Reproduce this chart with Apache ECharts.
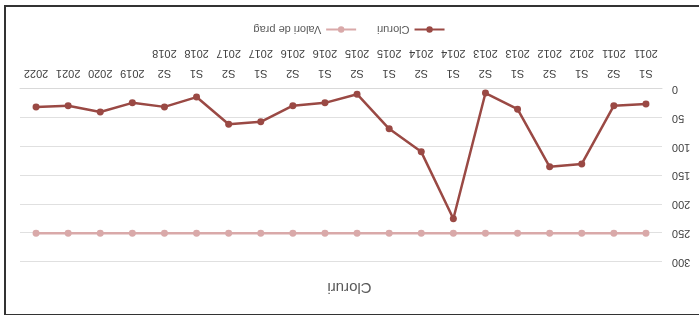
<!DOCTYPE html>
<html>
<head>
<meta charset="utf-8">
<script src="https://cdn.jsdelivr.net/npm/echarts@6/dist/echarts.min.js"></script>
<style>
  html, body { margin: 0; padding: 0; background: #fff; }
  #frame {
    position: absolute; left: 4px; top: 5px; width: 700px; height: 307px;
    border-top: 2px solid #333; border-left: 2px solid #333; border-bottom: 2px solid #333;
  }
  #chart {
    position: absolute; left: 0; top: 0; width: 699px; height: 315px;
    transform: rotate(180deg);
  }
</style>
</head>
<body>
<div id="frame"></div>
<div id="chart"></div>
<script>
const categories = [
  "S1\n2011", "S2\n2011", "S1\n2012", "S2\n2012", "S1\n2013", "S2\n2013",
  "S1\n2014", "S2\n2014", "S1\n2015", "S2\n2015", "S1\n2016", "S2\n2016",
  "S1\n2017", "S2\n2017", "S1\n2018", "S2\n2018", "2019", "2020", "2021", "2022"
];
const cloruri = [26, 29, 130, 135, 35, 7, 225, 109, 69, 9, 24, 29, 57, 61, 14, 31, 24, 40, 29, 31];
const valoriPrag = [250, 250, 250, 250, 250, 250, 250, 250, 250, 250, 250, 250, 250, 250, 250, 250, 250, 250, 250, 250];
const yTicks = [0, 50, 100, 150, 200, 250, 300];

// the scanned original is upside down, so the chart div is turned 180 degrees
let mychart = echarts.init(document.getElementById("chart"));
mychart.setOption({
  animation: false,
  textStyle: { fontFamily: "Liberation Sans, Arial, sans-serif" },
  title: {
    text: "Cloruri",
    left: "center",
    top: 15,
    textStyle: { fontSize: 15, fontWeight: "normal", color: "#595959" }
  },
  legend: {
    bottom: 19,
    left: "center",
    itemWidth: 30,
    itemHeight: 8,
    itemGap: 20,
    textStyle: { fontSize: 11, color: "#595959" },
    data: ["Cloruri", "Valori de prag"]
  },
  grid: { left: 37, right: 20, top: 53, bottom: 89 },
  xAxis: {
    type: "category",
    data: categories,
    boundaryGap: true,
    axisLine: { show: true, lineStyle: { color: "#d9d9d9" } },
    axisTick: { show: false },
    axisLabel: {
      interval: 0,
      fontSize: 11,
      lineHeight: 20,
      margin: 6,
      color: "#404040"
    }
  },
  yAxis: {
    type: "value",
    min: yTicks[0],
    max: yTicks[yTicks.length - 1],
    interval: 50,
    axisLine: { show: false },
    axisTick: { show: false },
    axisLabel: { fontSize: 11, color: "#404040", margin: 10 },
    splitLine: { lineStyle: { color: "#e0e0e0" } }
  },
  series: [
    {
      name: "Cloruri",
      type: "line",
      data: cloruri,
      symbol: "circle",
      symbolSize: 7,
      color: "#9a4944",
      lineStyle: { width: 2.5 }
    },
    {
      name: "Valori de prag",
      type: "line",
      data: valoriPrag,
      symbol: "circle",
      symbolSize: 7,
      color: "#d9a9a9",
      lineStyle: { width: 2.5 }
    }
  ]
});
</script>
</body>
</html>
